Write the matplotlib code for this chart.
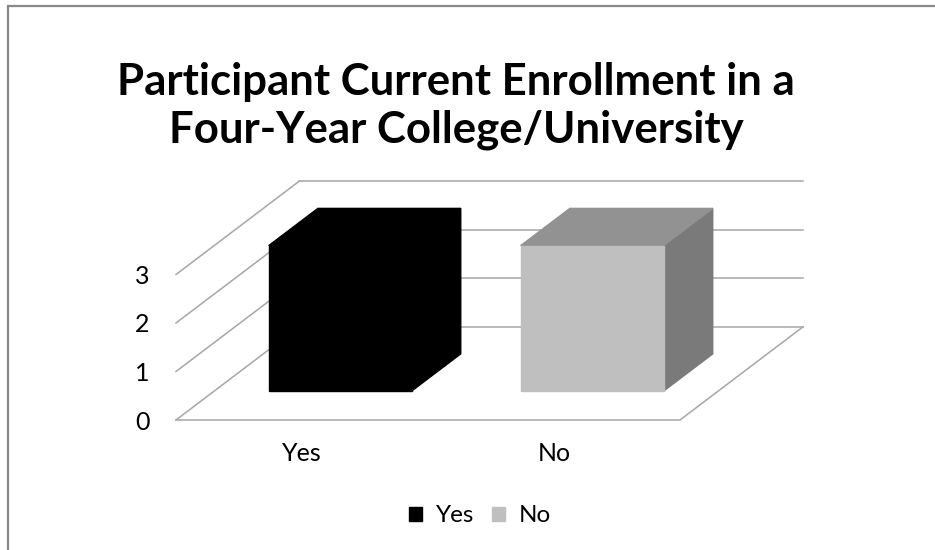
import numpy as np
import matplotlib
matplotlib.use('Agg')
import matplotlib.pyplot as plt
from matplotlib.patches import Polygon, Patch

plt.rcParams['font.family'] = ['Lato', 'DejaVu Sans']

categories = ['Yes', 'No']
values = [3, 3]
front_cols = ['#000000', '#bfbfbf']
top_cols = ['#000000', '#929292']
side_cols = ['#000000', '#7a7a7a']
yticks = [0, 1, 2, 3]

# oblique depth offset (data units) and bar geometry
DX, DY = 0.488, 1.92
bar_w = 0.567
d0, d1 = 0.31, 0.71
grid_c = '#a6a6a6'

fig = plt.figure(figsize=(9.35, 5.5), dpi=100)
ax = fig.add_axes([176/935, 130/550, 504/935, 3*48.5/550])
ax.set_xlim(-0.5, 1.5)
ax.set_ylim(0, 3)
for s in ax.spines.values():
    s.set_visible(False)
ax.patch.set_visible(False)

x0, x1 = -0.5, 1.5
# back wall gridlines + left wall lines
for v in yticks:
    ax.plot([x0 + DX, x1 + DX], [v + DY, v + DY], color=grid_c, lw=1.1, clip_on=False, zorder=1)
    ax.plot([x0, x0 + DX], [v, v + DY], color=grid_c, lw=1.1, clip_on=False, zorder=1)
# floor front and right edges
ax.plot([x0, x1, x1 + DX], [0, 0, DY], color=grid_c, lw=1.1, clip_on=False, zorder=1)

# bars
for i, val in enumerate(values):
    xl = i - bar_w / 2 + d0 * DX
    xr = xl + bar_w
    yb = d0 * DY
    ddx = (d1 - d0) * DX
    ddy = (d1 - d0) * DY
    front = [(xl, yb), (xr, yb), (xr, yb + val), (xl, yb + val)]
    top = [(xl, yb + val), (xr, yb + val), (xr + ddx, yb + val + ddy), (xl + ddx, yb + val + ddy)]
    side = [(xr, yb), (xr + ddx, yb + ddy), (xr + ddx, yb + val + ddy), (xr, yb + val)]
    for poly, c in [(side, side_cols[i]), (top, top_cols[i]), (front, front_cols[i])]:
        ax.add_patch(Polygon(poly, closed=True, facecolor=c, edgecolor=c, lw=1.0,
                             joinstyle='miter', clip_on=False, zorder=3))

ax.set_yticks(yticks)
ax.set_xticks(range(len(categories)))
ax.set_xticklabels(categories)
ax.tick_params(axis='y', length=0, pad=19, labelsize=18)
ax.tick_params(axis='x', length=0, pad=16, labelsize=18)

fig.text(456/935, 1 - 106/550, 'Participant Current Enrollment in a\nFour-Year College/University',
         ha='center', va='center', fontsize=31.5, fontweight='bold', linespacing=1.2)

handles = [Patch(facecolor=front_cols[i], edgecolor=front_cols[i]) for i in range(len(categories))]
fig.legend(handles, categories, loc='center', bbox_to_anchor=(480/935, 1 - 516/550), ncol=2,
           frameon=False, fontsize=17.5, handlelength=0.53, handleheight=0.53,
           handletextpad=0.55, columnspacing=0.75)

# chart frame (left and top edges)
fig.add_artist(plt.Line2D([7.5/935, 7.5/935], [0, 1 - 6/550], color='#898989', lw=1.6))
fig.add_artist(plt.Line2D([7.5/935, 1], [1 - 6/550, 1 - 6/550], color='#898989', lw=1.6))

fig.savefig('out.png', dpi=100)
